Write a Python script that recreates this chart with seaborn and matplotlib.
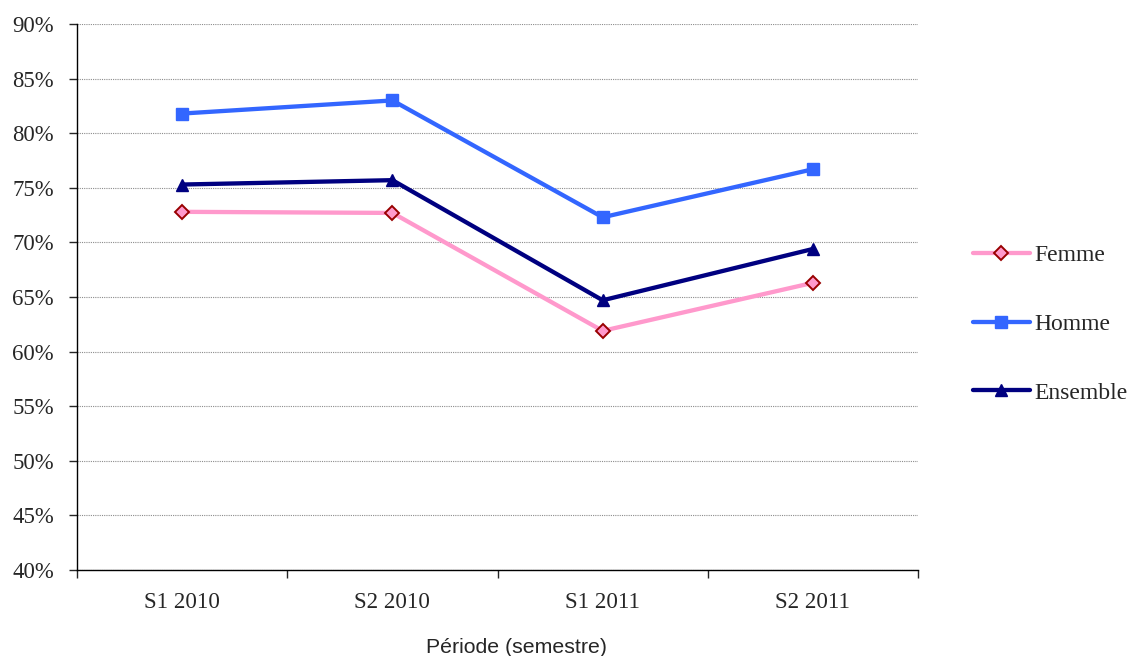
import matplotlib
matplotlib.use("Agg")
import matplotlib.pyplot as plt
from matplotlib.ticker import FixedLocator, MultipleLocator, PercentFormatter
import numpy as np
import pandas as pd
import seaborn as sns

periodes = ["S1 2010", "S2 2010", "S1 2011", "S2 2011"]
femme = [72.8, 72.7, 61.9, 66.3]
homme = [81.8, 83.0, 72.3, 76.7]
ensemble = [75.3, 75.7, 64.7, 69.4]
series = ["Femme", "Homme", "Ensemble"]

df = pd.DataFrame({
    "x": list(range(len(periodes))) * 3,
    "valeur": femme + homme + ensemble,
    "serie": np.repeat(series, len(periodes)),
})

sns.set_style("white")
plt.rcParams["font.family"] = ["Liberation Serif", "DejaVu Serif"]

fig = plt.figure(figsize=(11.29, 6.56), dpi=100)
ax = fig.add_axes([0.0682, 0.1311, 0.745, 0.8323])

colors = {"Femme": "#FF99CC", "Homme": "#3366FF", "Ensemble": "#000080"}
markers = {"Femme": "D", "Homme": "s", "Ensemble": "^"}

sns.lineplot(data=df, x="x", y="valeur", hue="serie", style="serie",
             hue_order=series, style_order=series, palette=colors,
             markers=markers, dashes=False, linewidth=3.1, markersize=8,
             legend=False, ax=ax)

edges = {"Femme": "#990000", "Homme": "#3366FF", "Ensemble": "#000080"}
sizes = {"Femme": 7.5, "Homme": 8.2, "Ensemble": 9}
for line, name in zip(ax.lines, series):
    line.set_markeredgecolor(edges[name])
    line.set_markeredgewidth(1.4 if name == "Femme" else 1)
    line.set_markersize(sizes[name])

ax.set_ylim(40, 90)
ax.set_xlim(-0.5, len(periodes) - 0.5)
ax.yaxis.set_major_locator(MultipleLocator(5))
ax.yaxis.set_major_formatter(PercentFormatter(decimals=0))
ax.set_xticks(range(len(periodes)))
ax.set_xticklabels(periodes)
ax.xaxis.set_minor_locator(FixedLocator(np.arange(-0.5, len(periodes), 1)))
ax.tick_params(axis="x", which="major", length=0, labelsize=16.6, pad=16)
ax.tick_params(axis="x", which="minor", length=6, width=1, direction="out", bottom=True)
ax.tick_params(axis="y", length=6, width=1, direction="out", left=True, labelsize=16.4, pad=10.5)

ax.grid(axis="y", color="#8c8c8c", linestyle=(0, (1, 1)), linewidth=0.8)
ax.grid(axis="x", visible=False)
ax.set_axisbelow(True)
for s in ["top", "right"]:
    ax.spines[s].set_visible(False)
for s in ["left", "bottom"]:
    ax.spines[s].set_color("black")
    ax.spines[s].set_linewidth(1)

ax.set_ylabel("")
ax.set_xlabel("Période (semestre)", family=["Liberation Sans", "DejaVu Sans"],
              fontsize=15.3)
ax.xaxis.set_label_coords(0.522, -0.125)

fig.legend(ax.lines, series, loc="center left", bbox_to_anchor=(973 / 1129, 0.506),
           frameon=False, fontsize=17, handlelength=2.4, handletextpad=0.2,
           labelspacing=2.0, borderaxespad=0, borderpad=0)

fig.savefig("out.png", dpi=100)
